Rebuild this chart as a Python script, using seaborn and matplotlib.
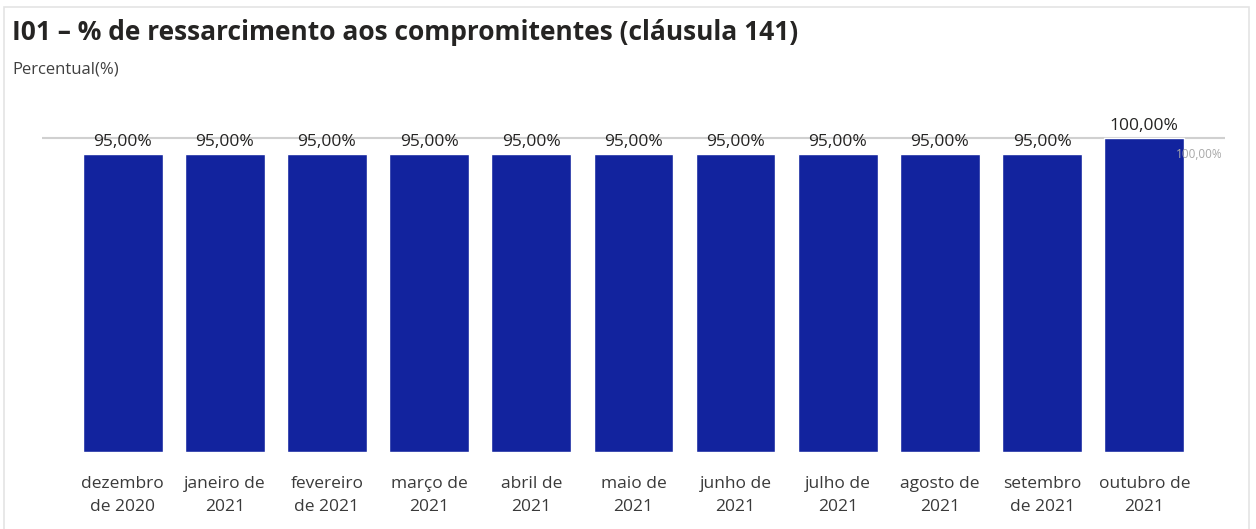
import numpy as np
import pandas as pd
import matplotlib
matplotlib.use('Agg')
import matplotlib.pyplot as plt
import matplotlib.patches as mpatches
import seaborn as sns

sns.set_theme(style='white')
plt.rcParams['font.family'] = ['Open Sans', 'DejaVu Sans']

# data
months = ['dezembro\nde 2020', 'janeiro de\n2021', 'fevereiro\nde 2021', 'março de\n2021',
          'abril de\n2021', 'maio de\n2021', 'junho de\n2021', 'julho de\n2021',
          'agosto de\n2021', 'setembro\nde 2021', 'outubro de\n2021']
percent = [95, 95, 95, 95, 95, 95, 95, 95, 95, 95, 100]
reference_line = 100

df = pd.DataFrame({'mes': months, 'pct': percent})

fig = plt.figure(figsize=(12.56, 5.29), dpi=100)
ax = fig.add_axes([0.0334, 0.1456, 0.9419, 0.6465])

# light card border
fig.patches.append(mpatches.Rectangle((4/1256, -0.01), 1245/1256, 1 - 7/529 + 0.01,
                                      transform=fig.transFigure, fill=False,
                                      edgecolor='#e4e4e4', linewidth=1.2))

ax.axhline(reference_line, color='#d0d0d0', linewidth=1.5, zorder=0)
sns.barplot(data=df, x='mes', y='pct', color='#12239E', saturation=1,
            width=0.78, ax=ax, zorder=2)

for i, v in enumerate(percent):
    ax.text(i, v + 1.2, f'{v:.2f}%'.replace('.', ','), ha='center', va='bottom',
            fontsize=12.5, color='#252423')

ax.text(10.77, reference_line - 3.2, f'{reference_line:.2f}%'.replace('.', ','),
        ha='right', va='top', fontsize=8.5, color='#a8a8a8', zorder=3)

ax.set_xlim(-0.79, 10.79)
ax.set_ylim(0, 109)
ax.set_yticks([])
ax.set_xlabel('')
ax.set_ylabel('')
ax.tick_params(axis='x', length=0, pad=17, labelsize=12.5, labelcolor='#3a3a3a')
for lbl in ax.get_xticklabels():
    lbl.set_linespacing(1.6)
sns.despine(ax=ax, left=True, bottom=True)

fig.text(12/1256, 1 - 32/529, 'I01 – % de ressarcimento aos compromitentes (cláusula 141)',
         fontsize=19, fontweight='bold', color='#252423', va='center', ha='left')
fig.text(12/1256, 1 - 70/529, 'Percentual(%)', fontsize=12, color='#404040',
         va='center', ha='left')

fig.savefig('out.png', dpi=100)
